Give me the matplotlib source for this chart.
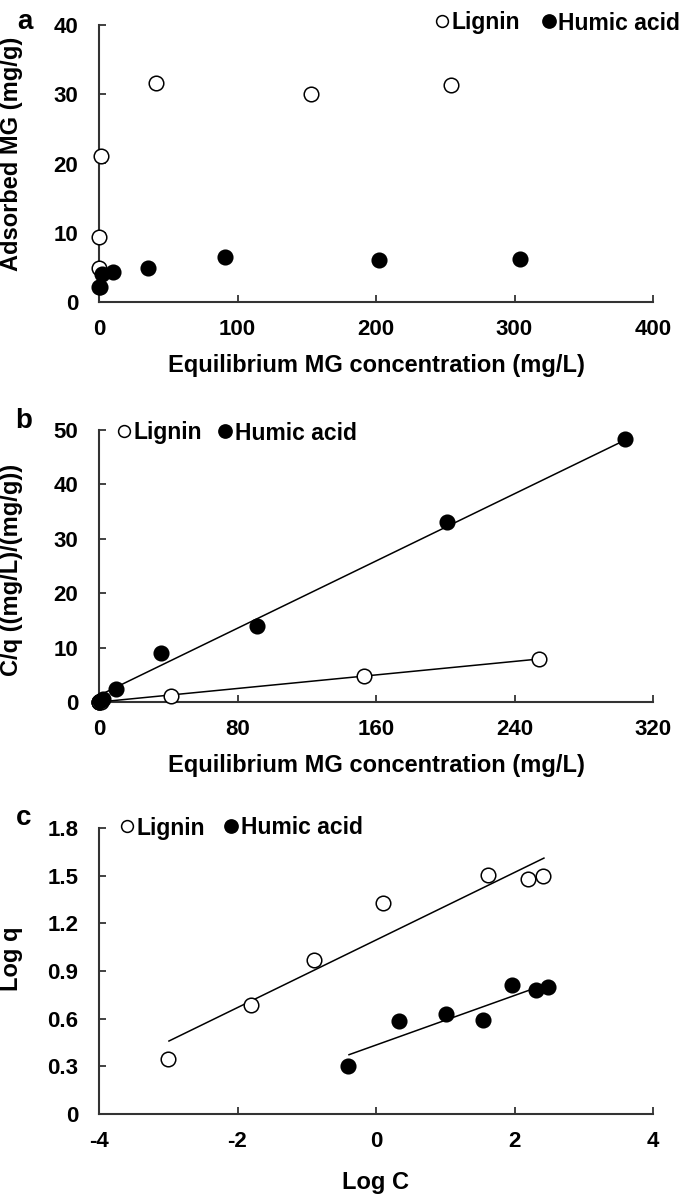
import matplotlib
matplotlib.use("Agg")
import matplotlib.pyplot as plt
import numpy as np
from matplotlib.lines import Line2D

plt.rcParams['font.family'] = ['Liberation Sans', 'DejaVu Sans']
plt.rcParams['font.weight'] = 'bold'
plt.rcParams['axes.unicode_minus'] = False

# ---------------- data ----------------
# Panel a: adsorption isotherm
a_lig_C = [0.001, 0.016, 0.13, 1.26, 41, 153, 254]
a_lig_q = [2.2, 4.95, 9.4, 21.1, 31.6, 30.0, 31.4]
a_hum_C = [0.4, 2.1, 10.3, 35.4, 91, 202, 304]
a_hum_q = [2.1, 4.0, 4.4, 4.86, 6.46, 6.07, 6.27]

# Panel b: Langmuir linearisation C/q vs C
b_lig_C = [0.001, 0.016, 0.13, 1.26, 41.4, 153, 254]
b_lig_Cq = [0.0, 0.0, 0.01, 0.06, 1.1, 4.8, 7.9]
b_hum_C = [0.4, 2.1, 10.0, 35.6, 91.3, 201, 304]
b_hum_Cq = [0.2, 0.55, 2.3, 9.0, 13.9, 33.1, 48.3]
b_lig_fit = (0.0311, 0.0)     # slope, intercept
b_hum_fit = (0.1545, 1.2)
b_lig_fit_range = (0.0, 254)
b_hum_fit_range = (0.4, 304)

# Panel c: Freundlich linearisation log q vs log C
c_lig_logC = [-3.0, -1.80, -0.90, 0.10, 1.62, 2.19, 2.41]
c_lig_logq = [0.345, 0.684, 0.968, 1.326, 1.503, 1.48, 1.50]
c_hum_logC = [-0.41, 0.33, 1.01, 1.55, 1.97, 2.31, 2.49]
c_hum_logq = [0.301, 0.585, 0.627, 0.589, 0.815, 0.779, 0.80]
c_lig_fit = (0.2126, 1.095)
c_hum_fit = (0.156, 0.434)
c_lig_fit_range = (-2.99, 2.425)
c_hum_fit_range = (-0.39, 2.21)

a_xticks = [0, 100, 200, 300, 400]
a_yticks = [0, 10, 20, 30, 40]
b_xticks = [0, 80, 160, 240, 320]
b_yticks = [0, 10, 20, 30, 40, 50]
c_xticks = [-4, -2, 0, 2, 4]
c_yticks = [0, 0.3, 0.6, 0.9, 1.2, 1.5, 1.8]
c_yticklabels = ['0', '0.3', '0.6', '0.9', '1.2', '1.5', '1.8']

W, H = 685, 1199
fig = plt.figure(figsize=(W / 100, H / 100), dpi=100)

TICK_FS = 16
LAB_FS = 17
LEG_FS = 16.5
SPINE_C = '#333333'
MS = 10.5


def px_rect(x0, y0, x1, y1):
    return [x0 / W, 1 - y1 / H, (x1 - x0) / W, (y1 - y0) / H]


def style(ax):
    for s in ['top', 'right']:
        ax.spines[s].set_visible(False)
    for s in ['left', 'bottom']:
        ax.spines[s].set_color(SPINE_C)
        ax.spines[s].set_linewidth(1.5)
    ax.tick_params(axis='both', direction='in', length=5, width=1.3,
                   color=SPINE_C, labelsize=TICK_FS)
    ax.tick_params(axis='x', pad=12)
    ax.tick_params(axis='y', pad=15)
    for lab in ax.get_xticklabels() + ax.get_yticklabels():
        lab.set_fontweight('bold')


def scatter(ax, x, y, filled):
    ax.plot(x, y, linestyle='none', marker='o', ms=MS,
            mfc='black' if filled else 'white', mec='black', mew=1.1,
            clip_on=False, zorder=5)


def fitline(ax, fit, rng):
    xs = np.array(rng)
    ax.plot(xs, fit[0] * xs + fit[1], color='black', lw=1.1, zorder=3)


def legend(ax, x_left_px, y_px, colsp):
    handles = [Line2D([], [], linestyle='none', marker='o', ms=8.5, mfc='white', mec='black', mew=1.1),
               Line2D([], [], linestyle='none', marker='o', ms=9.5, mfc='black', mec='black', mew=1.1)]
    leg = ax.legend(handles, ['Lignin', 'Humic acid'], ncol=2, loc='center left',
                    bbox_to_anchor=(x_left_px / W, 1 - y_px / H),
                    bbox_transform=fig.transFigure, frameon=False,
                    borderpad=0, borderaxespad=0, handlelength=0.6,
                    handletextpad=0.12, columnspacing=colsp,
                    prop={'size': LEG_FS, 'weight': 'bold'})
    return leg


# ---------------- panel a ----------------
axa = fig.add_axes(px_rect(99, 25, 653, 302))
scatter(axa, a_lig_C, a_lig_q, False)
scatter(axa, a_hum_C, a_hum_q, True)
axa.set_xlim(0, 400)
axa.set_ylim(0, 40)
axa.set_xticks(a_xticks)
axa.set_yticks(a_yticks)
style(axa)
axa.set_xlabel('Equilibrium MG concentration (mg/L)', fontsize=LAB_FS, fontweight='bold')
axa.set_ylabel('Adsorbed MG (mg/g)', fontsize=LAB_FS, fontweight='bold')
axa.xaxis.set_label_coords(0.5, -0.188)
axa.yaxis.set_label_coords(-0.137, 0.534)
legend(axa, 435, 23, 0.95)
fig.text(25 / W, 1 - 22 / H, 'a', fontsize=20, fontweight='bold', ha='center', va='center')

# ---------------- panel b ----------------
axb = fig.add_axes(px_rect(99, 430, 653, 702))
fitline(axb, b_hum_fit, b_hum_fit_range)
fitline(axb, b_lig_fit, b_lig_fit_range)
scatter(axb, b_lig_C, b_lig_Cq, False)
scatter(axb, b_hum_C, b_hum_Cq, True)
axb.set_xlim(0, 320)
axb.set_ylim(0, 50)
axb.set_xticks(b_xticks)
axb.set_yticks(b_yticks)
style(axb)
axb.set_xlabel('Equilibrium MG concentration (mg/L)', fontsize=LAB_FS, fontweight='bold')
axb.set_ylabel('C/q ((mg/L)/(mg/g))', fontsize=LAB_FS, fontweight='bold')
axb.xaxis.set_label_coords(0.5, -0.191)
axb.yaxis.set_label_coords(-0.137, 0.485)
legend(axb, 117, 433, 0.7)
fig.text(24 / W, 1 - 421 / H, 'b', fontsize=20, fontweight='bold', ha='center', va='center')

# ---------------- panel c ----------------
axc = fig.add_axes(px_rect(99, 828, 653, 1114))
fitline(axc, c_lig_fit, c_lig_fit_range)
fitline(axc, c_hum_fit, c_hum_fit_range)
scatter(axc, c_lig_logC, c_lig_logq, False)
scatter(axc, c_hum_logC, c_hum_logq, True)
axc.set_xlim(-4, 4)
axc.set_ylim(0, 1.8)
axc.set_xticks(c_xticks)
axc.set_yticks(c_yticks)
axc.set_yticklabels(c_yticklabels)
style(axc)
axc.set_xlabel('Log C', fontsize=LAB_FS, fontweight='bold')
axc.set_ylabel('Log q', fontsize=LAB_FS, fontweight='bold')
axc.xaxis.set_label_coords(0.5, -0.199)
axc.yaxis.set_label_coords(-0.137, 0.542)
legend(axc, 120, 828, 0.85)
fig.text(24 / W, 1 - 818 / H, 'c', fontsize=20, fontweight='bold', ha='center', va='center')

fig.savefig('out.png', dpi=100)
